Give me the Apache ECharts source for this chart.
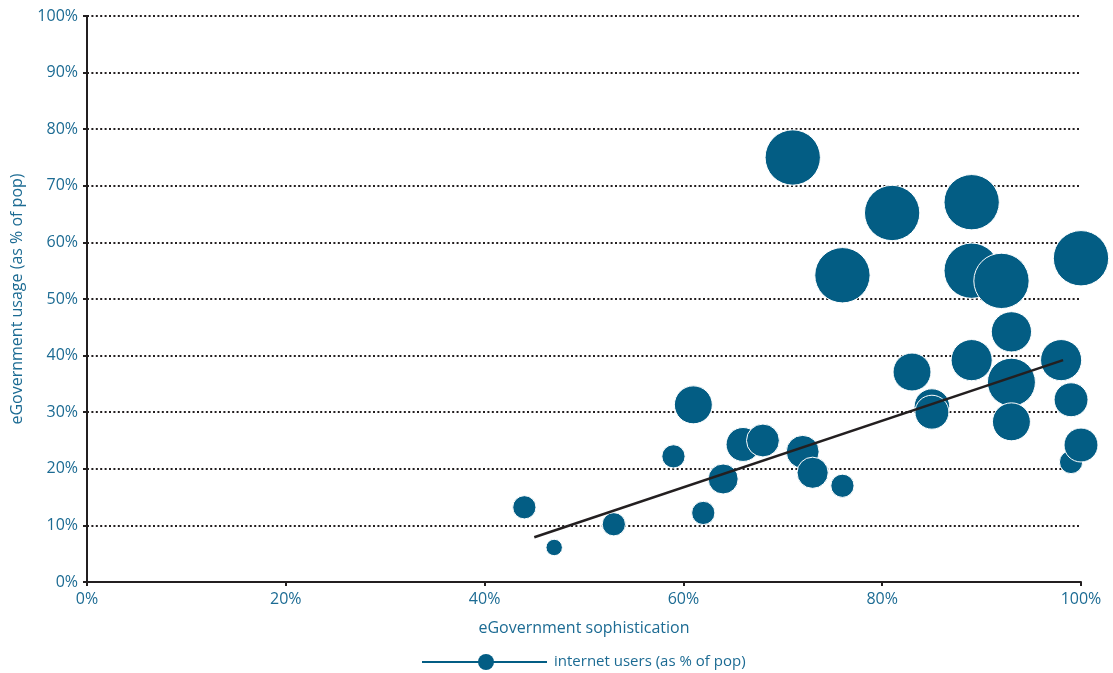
<!DOCTYPE html>
<html>
<head>
<meta charset="utf-8">
<script src="https://cdn.jsdelivr.net/npm/echarts@6/dist/echarts.min.js"></script>
<style>html,body{margin:0;padding:0;background:#fff}#c{width:1113px;height:673px}</style>
</head>
<body>
<div id="c"></div>
<script>
// eGovernment sophistication (%)
var sophistication = [44, 47, 53, 59, 61, 62, 64, 66, 68, 72, 73, 76, 71, 76, 81, 89, 89, 92, 100, 93, 83, 89, 85, 85, 93, 93, 98, 99, 99, 100];
// eGovernment usage (% of pop)
var usage = [13.2, 6.1, 10.2, 22.2, 31.3, 12.2, 18.2, 24.3, 25, 23, 19.3, 17, 75, 54.2, 65.2, 67.1, 55, 53.2, 57.2, 44.2, 37.1, 39.2, 31, 30, 35.3, 28.3, 39.2, 32.2, 21.2, 24.2];
// internet users (% of pop) -> bubble size
var internetUsers = [15, 7.5, 15, 15, 40, 15, 25, 32, 30, 30, 27, 15, 85, 85, 85, 85, 85, 85, 85, 45, 40, 47, 35, 32, 64, 40, 47, 32, 15, 32];
// trend line end points
var trendX = [45, 98.2];
var trendY = [7.9, 39.2];
var seriesName = 'internet users (as % of pop)';

var textColor = '#1c6b93';
var bubbleColor = '#035d84';
var dark = '#231f20';
var font = 'Open Sans';

var bubbleData = sophistication.map(function (x, i) { return [x, usage[i], internetUsers[i]]; });
var trendData = trendX.map(function (x, i) { return [x, trendY[i]]; });

var chart = echarts.init(document.getElementById('c'), null, {renderer: 'canvas'});
chart.setOption({
  animation: false,
  textStyle: {fontFamily: font},
  grid: {left: 87, right: 32, top: 16, bottom: 91, containLabel: false},
  graphic: [
    {type: 'line', shape: {x1: 422, y1: 662, x2: 547, y2: 662}, style: {stroke: bubbleColor, lineWidth: 2}},
    {type: 'circle', shape: {cx: 486, cy: 662, r: 8}, style: {fill: bubbleColor}},
    {type: 'text', left: 554, top: 654, style: {text: seriesName, fill: textColor, font: '15px "Open Sans"'}}
  ],
  xAxis: {
    type: 'value', min: 0, max: 100, interval: 20,
    name: 'eGovernment sophistication', nameLocation: 'middle', nameGap: 38,
    nameTextStyle: {color: textColor, fontSize: 16, fontFamily: font},
    axisLine: {show: true, onZero: false, lineStyle: {color: dark, width: 2}},
    axisTick: {show: true, length: 4, lineStyle: {color: dark, width: 2}},
    axisLabel: {color: textColor, fontSize: 16, margin: 9, formatter: '{value}%'},
    splitLine: {show: false}
  },
  yAxis: {
    type: 'value', min: 0, max: 100, interval: 10,
    name: 'eGovernment usage (as % of pop)', nameLocation: 'middle', nameGap: 62,
    nameTextStyle: {color: textColor, fontSize: 16, fontFamily: font},
    axisLine: {show: true, lineStyle: {color: dark, width: 2}},
    axisTick: {show: true, length: 4, lineStyle: {color: dark, width: 2}},
    axisLabel: {color: textColor, fontSize: 16, margin: 9, formatter: '{value}%'},
    splitLine: {show: true, lineStyle: {color: dark, width: 2, type: [2, 2.4]}}
  },
  series: [
    {
      name: seriesName, type: 'scatter', data: bubbleData,
      symbolSize: function (v) { return 6 * Math.sqrt(v[2]); },
      itemStyle: {color: bubbleColor, borderColor: '#ffffff', borderWidth: 1, opacity: 1},
      z: 2
    },
    {
      name: 'trend', type: 'line', data: trendData, showSymbol: false, symbol: 'none',
      lineStyle: {color: dark, width: 2.5}, z: 3, silent: true
    }
  ]
});
</script>
</body>
</html>
